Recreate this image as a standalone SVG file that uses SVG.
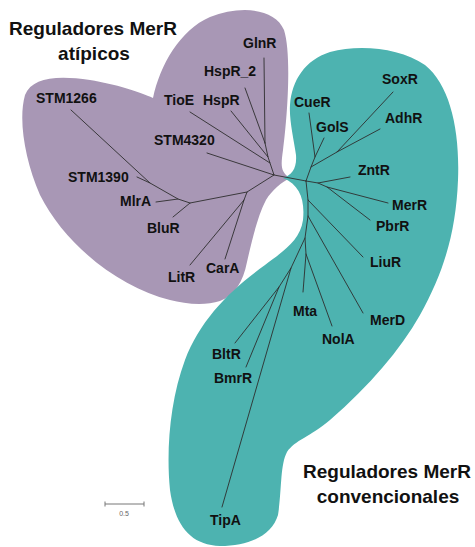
<svg xmlns="http://www.w3.org/2000/svg" width="475" height="547" viewBox="0 0 475 547">
<style>
.lbl{font-family:"Liberation Sans",Arial,sans-serif;font-weight:bold;font-size:14px;fill:#111}
.ttl{font-family:"Liberation Sans",Arial,sans-serif;font-weight:bold;font-size:19px;fill:#111;text-anchor:middle}
.br{stroke:#2e2e2e;stroke-width:0.9;fill:none;stroke-linecap:round}
</style>
<rect width="475" height="547" fill="#fff"/>
<g id="atypical-region">
<path fill="#a897b5" d="M153,98 C160,65 180,30 210,17 C240,5 275,8 284,30 C292,55 287,120 283,150 C281,165 280,172 290,178 C282,182 272,190 266,200 C258,215 252,240 247,262 C243,282 235,295 220,301 C205,306 185,304 170,300 C120,288 65,245 40,195 C25,160 18,120 25,95 C32,78 55,75 90,80 C115,84 140,92 153,98 Z"/>
</g>
<g id="conventional-region">
<path fill="#4db3b0" d="M283,178 C292,175 297,168 296,155 C294,140 289,120 290,105 C292,80 305,60 330,52 C360,44 400,48 425,65 C450,85 460,130 458,180 C456,230 445,270 420,315 C400,350 370,385 330,420 C310,437 295,440 287,452 C280,465 282,490 278,515 C272,535 250,546 220,546 C190,545 175,525 170,490 C166,450 170,400 185,360 C200,320 230,290 265,265 C285,250 300,240 303,220 C305,200 300,185 283,178 Z"/>
</g>
<g id="connectors" class="br">
<path d="M265,143 L264,58 M265,143 L245,88 M265,143 L268,157 L231,111 M268,157 L270,163 L190,112 M270,163 L274,175 L207,153 M274,175 L306,181 M274,175 L247,192 L244,200 L190,265 M244,200 L225,259 M247,192 L190,203 L173,217 M190,203 L178,199 L156,202 M178,199 L150,183 L137,177 M150,183 L71,110"/>
<path d="M306,181 L311,167 L315,157 L309,113 M315,157 L324,138 M311,167 L337,152 L393,92 M337,152 L380,129 M306,181 L318,183 L350,177 M318,183 L327,187 L388,203 M327,187 L370,220 M306,181 L308,200 L363,257 M308,200 L308,216 L363,313 M308,216 L305,238 L306,254 L303,292 M306,254 L332,326 M305,238 L291,268 L222,507 M291,268 L279,287 L235,343 M279,287 L246,367"/>
</g>
<g id="title-atypical"><text class="ttl" x="93" y="35">Reguladores MerR</text><text class="ttl" x="94" y="60">atípicos</text></g>
<g id="title-conventional"><text class="ttl" x="387" y="478">Reguladores MerR</text><text class="ttl" x="388" y="503">convencionales</text></g>
<g id="STM1266"><text class="lbl" x="36" y="103">STM1266</text></g>
<g id="GlnR"><text class="lbl" x="243" y="48">GlnR</text></g>
<g id="HspR_2"><text class="lbl" x="204" y="76">HspR_2</text></g>
<g id="TioE"><text class="lbl" x="164" y="105">TioE</text></g>
<g id="HspR"><text class="lbl" x="203" y="105">HspR</text></g>
<g id="STM4320"><text class="lbl" x="154" y="145">STM4320</text></g>
<g id="STM1390"><text class="lbl" x="68" y="182">STM1390</text></g>
<g id="MlrA"><text class="lbl" x="120" y="206">MlrA</text></g>
<g id="BluR"><text class="lbl" x="147" y="233">BluR</text></g>
<g id="LitR"><text class="lbl" x="168" y="282">LitR</text></g>
<g id="CarA"><text class="lbl" x="206" y="273">CarA</text></g>
<g id="CueR"><text class="lbl" x="294" y="107">CueR</text></g>
<g id="GolS"><text class="lbl" x="316" y="132">GolS</text></g>
<g id="SoxR"><text class="lbl" x="382" y="84">SoxR</text></g>
<g id="AdhR"><text class="lbl" x="385" y="123">AdhR</text></g>
<g id="ZntR"><text class="lbl" x="358" y="175">ZntR</text></g>
<g id="MerR"><text class="lbl" x="392" y="210">MerR</text></g>
<g id="PbrR"><text class="lbl" x="376" y="231">PbrR</text></g>
<g id="LiuR"><text class="lbl" x="370" y="267">LiuR</text></g>
<g id="MerD"><text class="lbl" x="370" y="325">MerD</text></g>
<g id="Mta"><text class="lbl" x="293" y="316">Mta</text></g>
<g id="NolA"><text class="lbl" x="322" y="344">NolA</text></g>
<g id="BltR"><text class="lbl" x="212" y="359">BltR</text></g>
<g id="BmrR"><text class="lbl" x="214" y="383">BmrR</text></g>
<g id="TipA"><text class="lbl" x="210" y="525">TipA</text></g>
<g id="scale-bar">
<path d="M105,504 H144 M105,501.5 V506.5 M144,501.5 V506.5" stroke="#777" stroke-width="1" fill="none"/>
<text x="124" y="516" font-family="Liberation Sans,Arial,sans-serif" font-size="7" fill="#666" text-anchor="middle">0.5</text>
</g>
</svg>
